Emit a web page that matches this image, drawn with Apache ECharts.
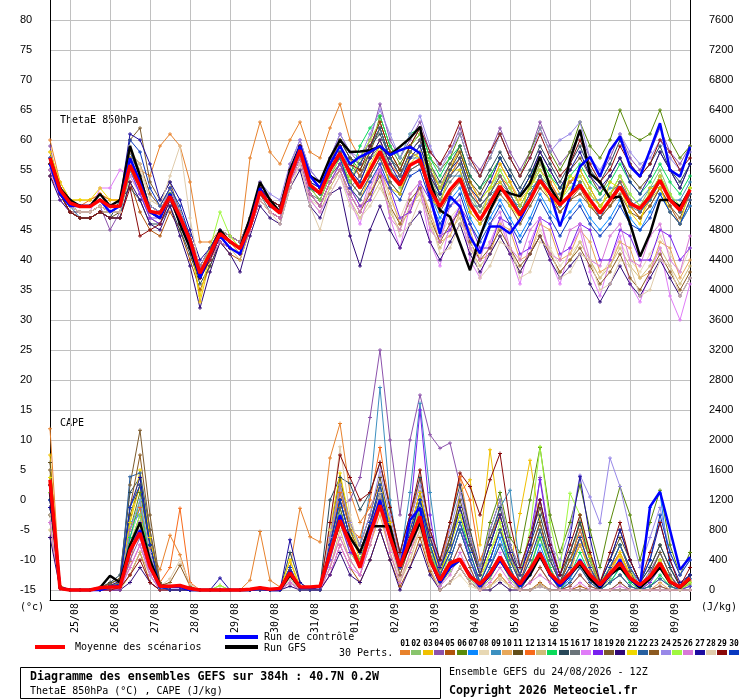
<!DOCTYPE html>
<html lang="fr">
<head>
<meta charset="UTF-8">
<title>Ensembles GEFS - ThetaE 850hPa / CAPE</title>
<script src="https://cdn.jsdelivr.net/npm/echarts@6/dist/echarts.min.js"></script>
<style>
  body { margin: 0; padding: 0; background: #fff; }
  #main { width: 740px; height: 700px; }
</style>
</head>
<body>
<div id="main"></div>
<script>
// echeances toutes les 6h depuis le 24/08 12Z (0 -> 384h)
var hours = [];
for (var h = 0; h <= 384; h += 6) hours.push(h);

var dayLabels = ['25/08', '26/08', '27/08', '28/08', '29/08', '30/08', '31/08', '01/09',
                 '02/09', '03/09', '04/09', '05/09', '06/09', '07/09', '08/09', '09/09'];

var pertColors = ['#e8822c', '#88c46c', '#f0c000', '#8c52ac', '#b0540c', '#5a8a0a', '#0a88ff', '#e8d8b4',
                  '#3c90c0', '#e8a85a', '#624e1a', '#f86a1a', '#d0bc78', '#0ada5a', '#284858', '#6a747a',
                  '#e07cf8', '#7820f0', '#7c5a2c', '#300878', '#f0d800', '#2860a0', '#8c5a20', '#9888e8',
                  '#a0f840', '#d878d8', '#1c0ca0', '#e0ccac', '#8a0808', '#0838c0'];

// ThetaE 850hPa (degC)
var thetaMean = [57,51.7,49.5,48.9,48.9,50,48.9,49, 55.8,52.2,48.1,47.8,50.6,47.2, 43.3,37.8,41.1,44.4,43.1,41.9,45.6,
  51.4,49.2,47.8,53.9,58.3,52.5,51.1,55,57.8,54.4,
  52,55,58.1,54.4,52.5,55.8,56.7,51.7,48.9,51.7,53.6,49.4,46.7,49.4,52.3,50,47.5,50,53.3,51.1,49.2,50.8,52.5,50,47.8,50,52.2,49.4,48.6,50.6,53.3,50,48.3,51.7];
var thetaCtrl = [56,51,49,49,49,50,48,49, 57,53,48,47,51,47, 43,37,41,44,42,41,46, 52,49,48,54,59,54,52,56,59,56,
  57.2,58,59,57.5, 58.3,58.9,57.8,50.6, 44.4,50.6,48.9,43.9, 41.1,45.6,45.6,44.4, 46.7,50,53.3,51.1, 45.6,50.6,55.6,57.2, 53.9,58.3,60.6,55.6, 53.9,58.3,62.8,55, 53.9,58.9];
var thetaGfs = [57,52,50,49,49,51,49,50, 59,54,48,47,51,46, 42,37,41,45,43,42,47, 53,50,48,55,59,54,53,57,60,58,
  58.1,58.3,58.9,57.5, 58.9,60.3,62.2,53.3, 48.3,47.2,42.8,38.3, 43.9,48.3,51.7,51.1, 50.6,52.8,57.2,52.2, 49.4,56.7,61.7,54.4, 53,50.3,50.6,46.1, 40.6,44.4,50,50, 48.9,51.7];

var thetaPerts = [
  [60,53,50,49,49,51,49,49, 57,55,54,59,61,59, 53,43,43,45,44,43,57, 63,58,56,60,63,58,57,62,66,60, 57,60,63,58,55,59,61,56,52,56,58,53,50,52,56,53,49,52,56,53,50,53,55,52,49,51,54,50,48,51,54,51,48,52],
  [56,51,49,48,48,49,48,48, 54,51,47,46,50,46, 42,37,40,44,43,41,46, 50,48,47,53,57,51,49,53,55,51, 53,57,60,55,52,57,59,54,50,54,57,51,48,51,55,52,49,52,56,53,50,53,55,52,49,51,54,51,49,52,55,51,48,52],
  [55,52,50,50,50,51,50,50, 57,53,49,48,51,47, 44,33,40,45,44,43,46, 51,49,48,55,59,52,51,55,57,52, 50,54,57,53,51,56,58,54,51,55,59,53,50,52,56,53,50,52,57,54,51,53,55,52,49,51,53,49,47,50,52,48,46,50],
  [59,51,49,48,48,49,45,48, 58,54,49,48,52,48, 44,39,42,45,44,43,47, 53,50,49,56,60,55,53,57,61,58, 56,60,66,60,57,60,63,58,56,58,62,57,55,58,62,58,55,58,63,59,56,58,61,57,54,57,61,57,55,58,62,58,56,59],
  [54,51,48,47,47,48,47,47, 53,48,45,44,48,45, 40,35,39,43,41,40,45, 50,48,47,53,57,52,50,54,56,53, 56,59,62,57,54,58,60,55,51,54,56,51,49,51,54,51,48,51,54,51,48,50,52,49,47,49,52,49,47,49,52,49,46,49],
  [57,52,50,49,49,50,49,49, 56,53,49,48,51,48, 44,39,42,45,44,43,47, 52,50,49,55,59,54,52,56,60,57, 55,58,64,59,56,59,62,57,55,57,61,56,54,57,61,57,54,58,62,58,55,58,63,59,57,60,65,61,60,61,65,60,57,59],
  [56,52,50,49,49,50,49,49, 57,52,48,48,51,47, 43,38,41,44,43,42,46, 51,49,48,54,58,52,51,55,57,53, 51,54,57,53,51,55,56,51,47,50,52,47,44,47,50,47,44,47,51,48,46,48,50,47,45,47,50,47,45,48,51,48,46,49],
  [57,52,50,49,49,50,49,50, 59,55,50,49,52,48, 43,38,41,44,43,42,45, 50,48,47,53,56,50,49,52,55,51, 48,52,55,50,47,51,53,48,44,47,49,44,41,43,46,42,38,41,45,42,39,41,43,40,37,40,43,40,38,41,44,41,38,42],
  [56,51,49,48,48,49,48,48, 55,51,47,47,50,46, 42,38,40,44,42,41,46, 52,50,49,55,59,53,52,56,59,55, 53,57,58,54,54,57,57,52,51,54,54,49,49,51,52,50,49,52,53,51,51,53,52,50,50,52,52,49,50,52,53,50,50,53],
  [58,53,50,49,49,50,49,49, 55,52,48,48,51,47, 42,37,41,44,43,41,46, 50,48,47,53,57,51,49,53,56,52, 49,51,55,51,46,48,52,48,43,44,48,45,40,41,46,45,40,41,46,45,40,41,45,43,38,39,43,42,37,38,43,42,37,40],
  [56,51,48,47,47,48,47,48, 56,53,48,47,51,47, 43,38,41,44,43,42,46, 52,50,49,55,59,54,52,56,59,56, 54,58,62,57,54,58,60,55,52,55,58,53,51,54,57,54,51,54,58,55,52,55,57,54,51,54,57,54,52,54,58,55,52,56],
  [57,52,50,49,50,51,50,50, 57,53,49,48,52,48, 44,39,42,45,44,43,47, 52,50,49,55,59,54,52,56,60,57, 54,57,60,56,54,58,60,55,52,54,57,52,49,51,54,52,49,52,55,53,50,53,54,51,49,51,53,50,48,51,54,50,48,52],
  [55,51,49,49,49,50,49,49, 56,52,47,46,50,46, 42,37,40,43,42,40,45, 50,48,47,53,56,50,48,52,55,50, 47,50,53,48,45,49,51,46,42,45,47,42,39,41,44,41,38,41,44,41,38,40,43,40,37,39,42,39,37,39,42,39,36,39],
  [56,52,49,48,48,49,48,48, 56,52,48,47,51,47, 43,38,41,44,43,42,46, 51,49,48,54,58,52,51,55,58,54, 59,62,64,59,57,61,62,57,54,57,59,54,52,54,57,54,51,54,57,54,52,54,56,53,51,53,56,53,51,53,56,53,51,54],
  [55,51,48,47,47,48,47,50, 52,50,46,46,49,45, 41,36,39,43,42,41,45, 52,50,49,55,59,54,53,57,60,57, 56,59,61,57,55,59,61,56,53,56,59,54,52,55,58,55,52,55,59,56,53,56,59,55,53,56,60,56,54,56,59,55,53,56],
  [56,51,49,48,48,49,48,48, 55,52,48,47,50,46, 42,37,40,44,42,41,46, 51,48,47,53,57,51,50,54,56,52, 54,57,59,55,53,57,58,53,50,53,55,50,48,50,53,51,48,51,54,52,49,51,53,50,48,50,52,49,48,50,53,50,48,51],
  [55,50,48,48,48,52,52,55, 54,51,47,47,50,46, 42,37,40,43,42,41,45, 50,48,47,53,56,50,48,51,54,50, 46,52,56,47,42,49,52,43,39,46,49,40,37,43,47,41,36,43,47,40,36,42,45,38,34,40,44,36,33,38,42,34,30,36],
  [56,51,49,48,48,49,48,48, 55,51,47,46,50,46, 42,37,40,44,42,41,46, 51,49,48,54,57,51,49,53,56,52, 49,50,55,52,47,48,53,50,44,45,49,46,42,42,47,46,41,42,47,46,41,42,46,45,40,40,45,44,40,40,45,44,40,42],
  [56,51,48,48,48,49,48,48, 60,62,53,50,53,48, 44,39,42,45,44,43,47, 51,49,48,54,58,52,51,55,57,53, 51,54,57,53,51,55,56,51,48,51,53,48,46,48,51,49,46,49,52,50,48,50,51,49,47,49,51,48,47,49,52,49,47,51],
  [54,50,48,47,47,48,47,47, 53,50,46,45,49,44, 39,32,38,43,41,38,44, 49,47,46,52,55,49,47,51,52,44, 39,45,49,45,42,46,48,43,40,43,46,41,38,41,44,41,38,41,44,40,37,39,41,36,33,36,39,36,34,37,40,37,34,37],
  [58,53,50,50,50,52,50,50, 57,53,49,48,52,48, 43,34,41,45,44,42,47, 52,50,49,55,58,53,51,55,58,54, 52,56,59,52,51,58,57,50,49,55,55,48,46,52,53,49,47,53,53,50,49,54,53,49,48,53,52,48,46,52,52,48,46,52],
  [57,52,49,47,47,48,47,47, 58,54,49,48,51,47, 42,37,40,44,42,41,46, 51,49,48,54,58,52,50,54,57,53, 56,59,62,57,54,58,60,55,51,54,56,51,49,51,54,51,48,51,54,51,49,51,53,50,47,50,53,50,48,50,53,50,48,51],
  [56,51,48,47,47,48,48,48, 58,56,51,49,52,48, 42,37,40,43,42,41,45, 50,48,47,53,57,51,49,53,55,51, 48,51,54,49,46,50,52,47,43,46,48,43,40,42,45,42,39,41,44,41,38,40,42,39,36,38,41,37,35,38,41,38,35,38],
  [57,52,50,49,49,50,49,49, 56,53,49,48,52,48, 44,39,42,45,44,43,47, 53,51,50,56,60,55,53,57,61,58, 57,61,65,61,57,61,64,59,55,58,61,56,54,57,61,57,54,57,62,58,60,61,63,57,55,58,61,58,56,57,60,57,55,58],
  [56,51,49,48,48,49,48,48, 55,52,48,47,51,47, 43,38,42,48,44,42,46, 51,49,48,54,58,52,50,54,57,53, 57,60,63,58,55,59,61,56,52,55,57,52,50,52,55,52,49,52,55,52,50,52,54,51,49,51,54,51,49,51,54,51,49,52],
  [57,51,49,48,48,49,48,48, 56,52,48,47,50,46, 42,37,40,43,42,41,45, 50,48,47,53,57,51,49,53,55,51, 48,53,55,47,45,51,53,45,43,49,50,42,40,46,48,42,40,45,47,41,40,45,46,40,39,44,46,40,39,44,46,40,38,44],
  [56,52,50,49,49,50,49,50, 61,60,56,50,53,50, 45,40,42,45,43,42,46, 52,50,49,55,58,53,52,56,58,55, 53,57,60,56,53,57,59,54,51,55,57,52,50,53,57,54,51,54,58,55,52,55,58,54,52,54,57,53,51,54,58,55,52,56],
  [57,52,49,48,48,49,48,48, 58,56,50,49,54,59, 47,38,41,44,43,42,46, 50,48,46,52,56,49,45,51,54,49, 47,49,52,49,44,46,50,47,41,42,46,44,37,39,43,42,37,38,43,42,37,38,41,40,35,36,40,39,34,35,40,39,34,37],
  [56,51,48,47,47,48,47,47, 52,44,45,46,50,46, 42,37,40,44,42,41,46, 52,50,49,55,59,54,52,56,59,56, 55,59,63,58,55,59,62,58,56,59,63,57,54,58,61,57,54,57,61,57,54,56,60,56,53,55,59,56,54,56,60,58,55,57],
  [57,52,50,49,49,50,49,49, 60,58,52,49,52,49, 44,38,41,44,43,42,46, 51,49,48,54,58,52,51,55,57,52, 50,53,56,52,50,54,55,50,46,49,51,46,43,46,49,46,43,46,50,47,44,47,49,46,44,46,49,46,45,47,51,48,46,50]
];

// CAPE (J/kg)
var capeMean = [1470,20,0,0,0,30,40,40, 530,760,310,50,50,60, 20,0,0,0,0,0,10, 30,10,20,230,40,40,50,490,930,620,
  300,750,1130,710, 310,670,980,400, 130,360,410,180, 80,220,440,220, 80,270,490,220, 90,220,380,200, 70,220,360,160, 70,180,360,110, 40,160];
var capeCtrl = [1400,30,0,0,0,0,40,60, 500,800,300,40,40,40, 0,0,0,0,0,0,0, 20,0,0,250,30,30,40,500,1000,600,
  300,800,1200,700, 300,930,1100,400, 100,300,400,200, 50,200,400,200, 50,250,500,200, 50,200,400,200, 50,200,400,150, 50,1110,1310,800, 270,440];
var capeGfs = [1300,20,0,0,0,30,190,100, 600,900,400,60,50,50, 0,0,0,0,0,0,0, 30,0,0,200,30,30,50,500,900,700,
  500,850,850,850, 300,600,900,400, 100,300,400,200, 50,200,400,200, 50,200,450,200, 50,200,350,150, 30,200,300,150, 30,150,300,100, 30,150];

var capePerts = [
  [2150,60,0,0,0,0,0,0, 380,900,560,270,730,470, 40,0,0,0,0,0,130, 780,130,40,300,1090,710,640,1760,2220,1300, 900,1100,1400,900, 300,700,1100,600, 150,900,1510,800, 200,400,800,400, 100,300,700,300, 50,300,600,250, 40,250,500,200, 20,200,400,150, 20,120],
  [900,20,0,0,0,0,30,40, 600,800,300,0,0,0, 0,0,0,60,0,0,0, 0,0,0,200,0,0,0,400,900,500, 300,700,1100,700, 200,600,1000,400, 60,250,400,150, 0,150,400,150, 0,200,800,300, 0,200,1000,400, 0,150,400,150, 0,100,300,100, 0,80],
  [1800,40,0,0,0,0,60,80, 900,1400,500,30,0,0, 0,0,0,0,0,0,0, 0,0,0,400,50,0,0,800,1500,800, 400,800,1400,900, 300,700,1200,600, 200,500,1300,1470, 600,1870,900,300, 1020,1730,900,400, 100,400,700,450, 40,300,450,200, 20,150,300,60, 0,100],
  [1200,30,0,0,0,0,0,0, 400,700,200,0,0,0, 0,0,0,0,0,0,0, 0,0,0,150,0,0,0,500,1100,1200, 1500,2300,3200,2000, 1000,2000,2600,2070, 1890,1960,1400,700, 200,600,1000,500, 100,500,1500,700, 200,500,900,400, 100,300,600,300, 50,250,500,200, 30,150],
  [1000,20,0,0,0,0,0,20, 200,500,100,0,0,0, 0,0,0,0,0,0,0, 0,0,0,100,0,0,0,200,600,300, 100,400,800,400, 50,300,700,250, 0,100,300,100, 0,50,200,50, 0,0,100,0, 0,0,50,0, 0,0,0,0, 0,0,0,0, 0,0],
  [1500,40,0,0,0,20,60,100, 800,1300,600,50,0,0, 0,0,0,0,0,0,0, 0,0,0,250,0,0,50,600,1200,700, 500,900,1200,700, 300,700,1200,600, 200,700,1100,600, 300,900,1300,700, 500,1200,1900,1000, 500,900,1400,800, 300,900,1380,1000, 400,900,1330,600, 200,500],
  [1300,30,0,0,0,0,30,60, 700,1100,400,20,0,0, 0,0,0,0,0,0,0, 0,0,0,200,0,0,0,500,1000,600, 400,800,1300,800, 300,700,1100,600, 100,400,800,400, 50,300,700,300, 0,200,600,250, 0,150,400,150, 0,100,300,100, 100,1100,1290,300, 50,200],
  [1600,40,0,0,0,0,50,90, 600,1200,500,30,0,0, 0,0,0,0,0,0,0, 0,0,0,150,0,0,0,700,1400,900, 600,900,1400,700, 150,500,900,300, 0,100,200,50, 0,0,100,0, 0,0,50,0, 0,0,0,0, 0,0,0,0, 0,0,0,0, 0,0],
  [1100,30,0,0,0,0,40,80, 900,1000,300,0,0,0, 0,0,0,0,0,0,0, 0,0,0,300,0,0,0,600,1300,800, 600,1300,2700,1200, 400,1300,2490,1300, 300,600,1100,700, 200,600,1100,1330, 300,500,900,400, 100,400,800,400, 50,300,600,250, 20,200,500,200, 0,150],
  [1400,30,0,0,0,0,0,30, 300,600,200,0,0,0, 0,0,0,0,0,0,0, 0,0,0,100,0,0,0,300,700,400, 200,600,1000,500, 100,500,800,300, 0,100,300,100, 0,50,200,50, 0,100,300,100, 0,200,710,300, 0,100,200,50, 0,0,100,0, 0,0],
  [1700,50,0,0,0,30,80,150, 1000,1400,600,40,0,0, 0,0,0,0,0,0,0, 0,0,0,300,0,0,50,800,1500,900, 600,1000,1500,900, 400,800,1300,700, 300,700,1200,700, 200,800,1200,600, 300,700,1100,600, 200,500,900,500, 100,400,700,400, 100,300,600,300, 50,200],
  [1100,30,0,0,0,0,40,80, 800,1100,300,100,300,1090, 100,0,0,0,0,0,0, 0,0,0,300,0,0,0,600,1300,800, 700,1200,1900,1100, 400,900,1500,800, 300,900,1510,1200, 400,700,1000,500, 200,500,900,400, 100,400,800,400, 50,300,500,200, 0,200,400,150, 0,100],
  [800,20,0,0,0,0,0,0, 200,500,200,0,0,0, 0,0,0,0,0,0,0, 0,0,0,100,0,0,0,300,800,400, 200,600,1100,500, 100,400,800,300, 0,100,300,100, 0,50,150,50, 0,0,80,0, 0,0,0,0, 0,0,0,0, 0,0,0,0, 0,0],
  [1300,30,0,0,0,0,50,80, 700,1200,400,0,0,0, 0,0,0,0,0,0,0, 0,0,0,200,0,0,0,500,1100,600, 400,800,1300,800, 300,700,1100,600, 200,600,1000,500, 100,400,800,300, 0,300,700,300, 0,200,500,200, 0,100,300,100, 0,50,200,50, 0,50],
  [1000,30,0,0,0,30,100,200, 1300,1500,700,50,0,0, 0,0,0,0,0,0,0, 0,0,0,500,100,0,50,1200,1500,1420, 1070,1300,1700,1100, 500,1000,1500,800, 400,900,1400,800, 300,700,1100,600, 200,600,1000,500, 100,500,900,400, 100,400,800,400, 100,300,600,300, 50,200],
  [1200,30,0,0,0,0,30,60, 600,1000,400,0,0,0, 0,0,0,0,0,0,0, 0,0,0,200,0,0,0,500,1000,600, 400,800,1200,700, 300,600,1000,500, 100,400,800,400, 50,300,600,300, 0,200,500,200, 0,100,300,100, 0,100,200,50, 0,50,150,50, 0,0],
  [900,20,0,0,0,0,0,0, 300,600,200,0,0,0, 0,0,0,0,0,0,0, 0,0,0,100,0,0,0,200,600,300, 200,700,1300,600, 200,600,1100,400, 50,300,600,300, 0,200,500,200, 0,100,300,100, 0,50,200,50, 0,0,100,0, 0,0,50,0, 0,0],
  [1300,30,0,0,0,0,0,40, 500,900,300,0,0,0, 0,0,0,0,0,0,0, 0,0,0,200,0,0,0,400,900,500, 400,800,1300,800, 300,1000,2400,1000, 200,500,900,400, 100,400,800,400, 200,700,1470,600, 100,300,600,300, 0,200,400,150, 0,100,300,100, 0,50],
  [1600,40,0,0,0,30,90,150, 1400,2130,1000,100,0,0, 0,0,0,0,0,0,0, 0,0,0,300,0,0,0,700,1400,800, 500,900,1300,800, 300,800,1300,700, 300,700,1100,600, 200,600,1000,500, 100,500,900,400, 100,400,700,300, 50,300,600,250, 0,200,500,200, 0,100],
  [700,20,0,0,0,0,0,0, 100,300,100,0,0,0, 0,0,0,0,0,0,0, 0,0,0,50,0,0,0,200,500,200, 100,400,800,400, 0,300,600,200, 0,100,300,100, 0,0,100,0, 0,0,50,0, 0,0,0,0, 0,0,0,0, 0,0,0,0, 0,0],
  [1500,40,0,0,0,0,60,100, 900,1600,700,50,0,0, 0,0,0,0,0,0,0, 0,0,0,400,0,0,0,800,1560,900, 500,900,1400,900, 300,800,1300,700, 200,600,1000,600, 200,500,800,400, 100,400,800,400, 100,300,600,300, 50,200,500,200, 0,200,400,150, 0,100],
  [1100,30,0,0,0,0,40,60, 1510,1560,800,60,0,0, 0,0,0,0,0,0,0, 0,0,0,300,0,0,0,600,1200,700, 500,900,1400,800, 300,700,1200,600, 100,400,800,400, 50,300,600,300, 0,200,500,200, 0,100,300,100, 0,100,200,50, 0,50,150,50, 0,0],
  [1400,40,0,0,0,0,50,100, 1100,1800,800,60,100,330, 50,0,0,0,0,0,0, 0,0,0,200,0,0,0,500,1100,600, 400,800,1300,700, 200,600,1100,500, 100,300,600,300, 0,200,400,200, 0,100,300,100, 0,50,200,50, 0,0,100,0, 0,0,50,0, 0,0],
  [1200,30,0,0,0,0,40,80, 800,1200,500,30,0,0, 0,0,0,0,0,0,0, 0,0,0,300,0,0,0,700,1400,900, 600,1000,1600,1000, 400,900,1400,800, 300,800,1300,700, 300,800,1200,600, 300,700,1200,600, 400,800,1530,1240, 890,1760,1380,800, 300,700,1100,500, 200,400],
  [1300,30,0,0,0,0,50,80, 600,1000,400,0,0,0, 0,0,0,60,0,0,0, 0,0,0,200,0,0,0,500,1000,600, 400,800,1300,800, 300,700,1100,600, 100,500,900,500, 100,500,900,400, 200,800,1910,900, 300,1290,1000,400, 100,300,600,300, 0,200,400,150, 0,100],
  [900,20,0,0,0,0,0,20, 300,600,200,0,0,0, 0,0,0,0,0,0,0, 0,0,0,100,0,0,0,300,700,400, 200,600,1100,500, 100,500,900,400, 50,200,500,200, 0,100,300,100, 0,100,200,100, 0,0,100,0, 0,0,50,0, 0,0,0,0, 0,0],
  [1100,30,0,0,0,0,60,120, 1100,1500,600,40,0,0, 0,0,0,160,0,0,0, 0,0,0,670,100,0,0,600,1200,700, 500,900,1300,800, 300,700,1200,700, 300,600,1100,600, 200,600,1000,500, 200,600,1200,600, 200,700,1510,700, 100,400,800,400, 100,400,900,400, 100,200],
  [1000,30,0,0,0,0,30,50, 500,800,300,50,150,400, 80,0,0,0,0,0,0, 0,0,0,150,0,0,0,800,1910,1000, 500,800,1300,600, 150,400,800,300, 0,100,300,100, 0,50,150,50, 0,0,50,0, 0,0,0,0, 0,0,0,0, 0,0,0,0, 0,0],
  [1400,40,0,0,0,0,0,30, 200,400,100,0,0,0, 0,0,0,0,0,0,0, 0,0,0,250,0,0,0,900,1800,1500, 1200,1300,1700,1100, 500,1000,1600,800, 400,900,1560,1380, 1000,1470,1820,900, 300,700,1200,600, 200,600,1000,500, 100,500,900,400, 100,500,900,400, 50,300],
  [1200,30,0,0,0,0,50,80, 1100,1400,600,40,0,0, 0,0,0,0,0,0,0, 0,0,0,300,0,0,0,600,1200,700, 500,900,1400,800, 300,800,1200,600, 200,500,900,500, 100,400,800,400, 100,400,800,400, 100,300,700,300, 50,300,600,300, 100,400,1000,500, 200,400]
];

var mono = '"DejaVu Sans Mono", monospace';
var sans = '"Liberation Sans", Arial, sans-serif';
var plus = 'path://M2,0H3V2H5V3H3V5H2V3H0V2H2Z';

function isDay(idx) { return idx % 4 === 2; }

function pertLine(name, data, color, axis) {
    return {
        name: name, type: 'line', yAxisIndex: axis, data: data,
        symbol: plus, symbolSize: 4, showAllSymbol: true,
        itemStyle: { color: color },
        lineStyle: { color: color, width: 1 },
        silent: true, z: 2
    };
}

function mainLine(name, data, color, width, axis, z) {
    return {
        name: name, type: 'line', yAxisIndex: axis, data: data,
        symbol: 'none',
        lineStyle: { color: color, width: width },
        silent: true, z: z
    };
}

var series = [];
thetaPerts.forEach(function (d, k) { series.push(pertLine('T' + (k + 1), d, pertColors[k], 0)); });
capePerts.forEach(function (d, k) { series.push(pertLine('C' + (k + 1), d, pertColors[k], 1)); });
series.push(mainLine('GFS', thetaGfs, '#000000', 2.5, 0, 3));
series.push(mainLine('GFS cape', capeGfs, '#000000', 2.5, 1, 3));
series.push(mainLine('Controle', thetaCtrl, '#0000ff', 2.5, 0, 4));
series.push(mainLine('Controle cape', capeCtrl, '#0000ff', 2.5, 1, 4));
series.push(mainLine('Moyenne', thetaMean, '#ff0000', 3.5, 0, 5));
series.push(mainLine('Moyenne cape', capeMean, '#ff0000', 3.5, 1, 5));

function txt(text, x, y, size, bold) {
    return {
        type: 'text', silent: true,
        style: {
            text: text, x: x, y: y, fill: '#000',
            font: (bold ? 'bold ' : '') + size + 'px ' + mono,
            verticalAlign: 'middle'
        }
    };
}

var graphics = [
    txt('(°c)', 20, 607, 10),
    txt('(J/kg)', 701, 607, 10),
    txt('ThetaE 850hPa', 60, 120, 10),
    txt('CAPE', 60, 423, 10),
    { type: 'line', silent: true, shape: { x1: 35, y1: 647, x2: 65, y2: 647 }, style: { stroke: '#ff0000', lineWidth: 4 } },
    txt('Moyenne des scénarios', 75, 647, 10),
    { type: 'line', silent: true, shape: { x1: 225, y1: 637, x2: 258, y2: 637 }, style: { stroke: '#0000ff', lineWidth: 4 } },
    txt('Run de contrôle', 264, 637, 10),
    { type: 'line', silent: true, shape: { x1: 225, y1: 647, x2: 258, y2: 647 }, style: { stroke: '#000000', lineWidth: 4 } },
    txt('Run GFS', 264, 648, 10),
    txt('30 Perts.', 339, 653, 10),
    { type: 'rect', silent: true, shape: { x: 20.5, y: 667.5, width: 420, height: 31 }, style: { fill: 'none', stroke: '#000', lineWidth: 1 } },
    txt('Diagramme des ensembles GEFS sur 384h : 40.7N 0.2W', 30, 677, 11.6, true),
    txt('ThetaE 850hPa (°C) , CAPE (J/kg)', 30, 691, 10),
    txt('Ensemble GEFS du 24/08/2026 - 12Z', 449, 672, 10),
    txt('Copyright 2026 Meteociel.fr', 449, 691, 11.6, true)
];
pertColors.forEach(function (c, k) {
    var x = Math.round(400 + k * 11.33);
    graphics.push({ type: 'rect', silent: true, shape: { x: x, y: 650, width: 10, height: 5 }, style: { fill: c } });
    graphics.push({
        type: 'text', silent: true,
        style: {
            text: (k < 9 ? '0' : '') + (k + 1), x: x + 5, y: 644, fill: '#000',
            font: 'bold 8px ' + mono, align: 'center', verticalAlign: 'middle'
        }
    });
});

var chart = echarts.init(document.getElementById('main'));
chart.setOption({
    animation: false,
    backgroundColor: '#ffffff',
    grid: { left: 50, right: 50, top: 0, bottom: 100, containLabel: false },
    xAxis: {
        type: 'category', data: hours, boundaryGap: false,
        axisLine: { onZero: false, lineStyle: { color: '#000', width: 1 } },
        axisTick: { show: false },
        axisLabel: {
            interval: isDay, rotate: 90, margin: 3, verticalAlign: 'top',
            formatter: function (v, idx) { return isDay(idx) ? dayLabels[(idx - 2) / 4] : ''; },
            fontFamily: mono, fontSize: 10, color: '#000'
        },
        splitLine: { show: true, interval: isDay, lineStyle: { color: '#c0c0c0', width: 1 } }
    },
    yAxis: [{
        type: 'value', position: 'left', min: -50 / 3, max: 250 / 3, minInterval: 5, maxInterval: 5,
        axisLine: { show: true, lineStyle: { color: '#000', width: 1 } },
        axisTick: { show: false },
        axisLabel: {
            align: 'left', margin: 30, showMinLabel: false, showMaxLabel: false,
            formatter: function (v) { return String(Math.round(v)); },
            fontFamily: sans, fontSize: 11, color: '#000'
        },
        splitLine: { show: true, showMinLine: false, showMaxLine: false, lineStyle: { color: '#c0c0c0', width: 1 } }
    }, {
        type: 'value', position: 'right', min: -400 / 3, max: 23600 / 3, minInterval: 400, maxInterval: 400,
        axisLine: { show: true, lineStyle: { color: '#000', width: 1 } },
        axisTick: { show: false },
        axisLabel: {
            align: 'left', margin: 19, showMinLabel: false, showMaxLabel: false,
            formatter: function (v) { return String(Math.round(v)); },
            fontFamily: sans, fontSize: 11, color: '#000'
        },
        splitLine: { show: false }
    }],
    graphic: graphics,
    series: series
});
</script>
</body>
</html>
